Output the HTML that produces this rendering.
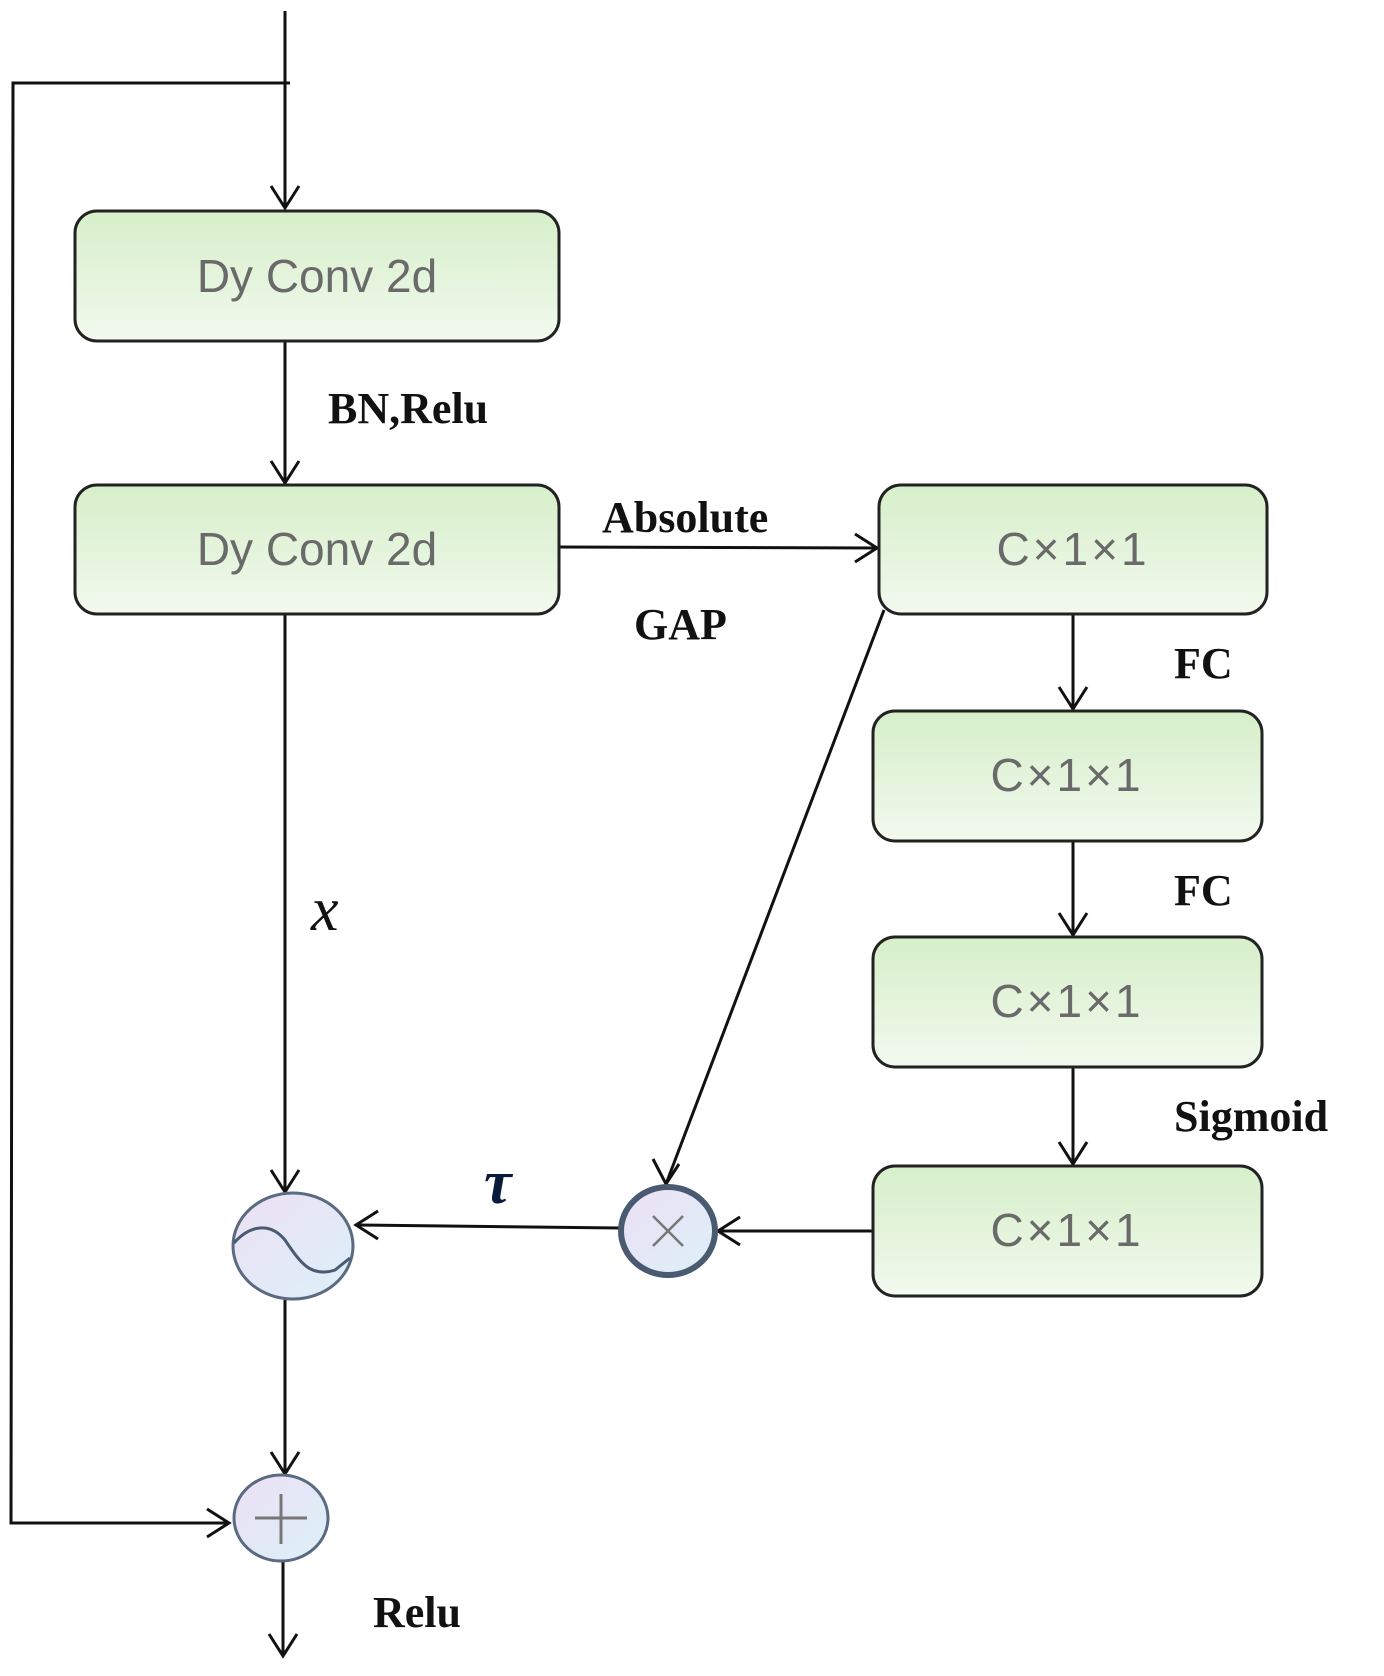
<!DOCTYPE html>
<html><head><meta charset="utf-8"><style>html,body{margin:0;padding:0;background:#fff}</style></head>
<body>
<svg width="1384" height="1671" viewBox="0 0 1384 1671" xmlns="http://www.w3.org/2000/svg">
<defs>
<linearGradient id="g" x1="0" y1="0" x2="0" y2="1"><stop offset="0" stop-color="#d6efc9"/><stop offset="1" stop-color="#f2f9ee"/></linearGradient>
<linearGradient id="c" x1="0" y1="0" x2="1" y2="1"><stop offset="0" stop-color="#ece0f4"/><stop offset="1" stop-color="#dcf0f8"/></linearGradient>
</defs>
<g stroke="#111" stroke-width="3" fill="none">
<line x1="285" y1="11" x2="285" y2="208"/>
<polyline points="290,83 13,83 11,1523 229,1523"/>
<polyline points="271,186 285,208 299,186"/>
<polyline points="207,1509 229,1523 207,1537"/>
<line x1="285" y1="341" x2="285" y2="483"/>
<polyline points="271,461 285,483 299,461"/>
<line x1="559" y1="547" x2="877" y2="548"/>
<polyline points="855,534 877,548 855,562"/>
<line x1="1073" y1="614" x2="1073" y2="709"/>
<polyline points="1059,687 1073,709 1087,687"/>
<line x1="1073" y1="841" x2="1073" y2="935"/>
<polyline points="1059,913 1073,935 1087,913"/>
<line x1="1073" y1="1067" x2="1073" y2="1164"/>
<polyline points="1059,1142 1073,1164 1087,1142"/>
<line x1="884" y1="610" x2="666" y2="1184"/>
<polyline points="653,1159 666,1184 679,1164"/>
<line x1="879" y1="1231" x2="718" y2="1231"/>
<polyline points="740,1217 718,1231 740,1245"/>
<line x1="620" y1="1228" x2="356" y2="1225"/>
<polyline points="378,1211 356,1225 378,1239"/>
<line x1="285" y1="614" x2="285" y2="1192"/>
<polyline points="271,1170 285,1192 299,1170"/>
<line x1="285" y1="1300" x2="285" y2="1474"/>
<polyline points="271,1452 285,1474 299,1452"/>
<line x1="283" y1="1561" x2="283" y2="1656"/>
<polyline points="269,1634 283,1656 297,1634"/>
</g>
<g stroke="#222" stroke-width="3" fill="url(#g)">
<rect x="75" y="211" width="484" height="130" rx="22"/>
<rect x="75" y="485" width="484" height="129" rx="22"/>
<rect x="879" y="485" width="388" height="129" rx="22"/>
<rect x="873" y="711" width="389" height="130" rx="22"/>
<rect x="873" y="937" width="389" height="130" rx="22"/>
<rect x="873" y="1166" width="389" height="130" rx="22"/>
</g>
<g font-family="Liberation Sans, sans-serif" font-size="46" fill="#6a6a6a" text-anchor="middle">
<text x="317" y="292">Dy Conv 2d</text>
<text x="317" y="565">Dy Conv 2d</text>
<text x="1073" y="565" letter-spacing="3">C×1×1</text>
<text x="1067" y="791" letter-spacing="3">C×1×1</text>
<text x="1067" y="1017" letter-spacing="3">C×1×1</text>
<text x="1067" y="1246" letter-spacing="3">C×1×1</text>
</g>
<ellipse cx="293" cy="1246" rx="60" ry="53" fill="url(#c)" stroke="#5a6a80" stroke-width="3"/>
<path d="M234,1243 C250,1225 270,1222 285,1240 C300,1262 310,1278 335,1270 L350,1258" fill="none" stroke="#4a5a70" stroke-width="3"/>
<ellipse cx="668" cy="1231" rx="47" ry="44" fill="url(#c)" stroke="#4a5a70" stroke-width="6"/>
<path d="M653,1216 L683,1246 M683,1216 L653,1246" stroke="#777" stroke-width="2.5"/>
<ellipse cx="281" cy="1518" rx="47" ry="43" fill="url(#c)" stroke="#5a6a80" stroke-width="3"/>
<path d="M281,1494 L281,1544 M255,1518 L307,1518" stroke="#777" stroke-width="3"/>
<g font-family="Liberation Serif, serif" font-weight="bold" font-size="44" fill="#111">
<text x="328" y="423">BN,Relu</text>
<text x="602" y="532">Absolute</text>
<text x="634" y="639">GAP</text>
<text x="1174" y="678">FC</text>
<text x="1174" y="905">FC</text>
<text x="1174" y="1131">Sigmoid</text>
<text x="373" y="1627">Relu</text>
</g>
<text x="311" y="930" font-family="Liberation Serif, serif" font-style="italic" font-size="62" fill="#111">x</text>
<text x="484" y="1203" font-family="Liberation Serif, serif" font-style="italic" font-weight="bold" font-size="62" fill="#0a1a3a">τ</text>
</svg>
</body></html>
